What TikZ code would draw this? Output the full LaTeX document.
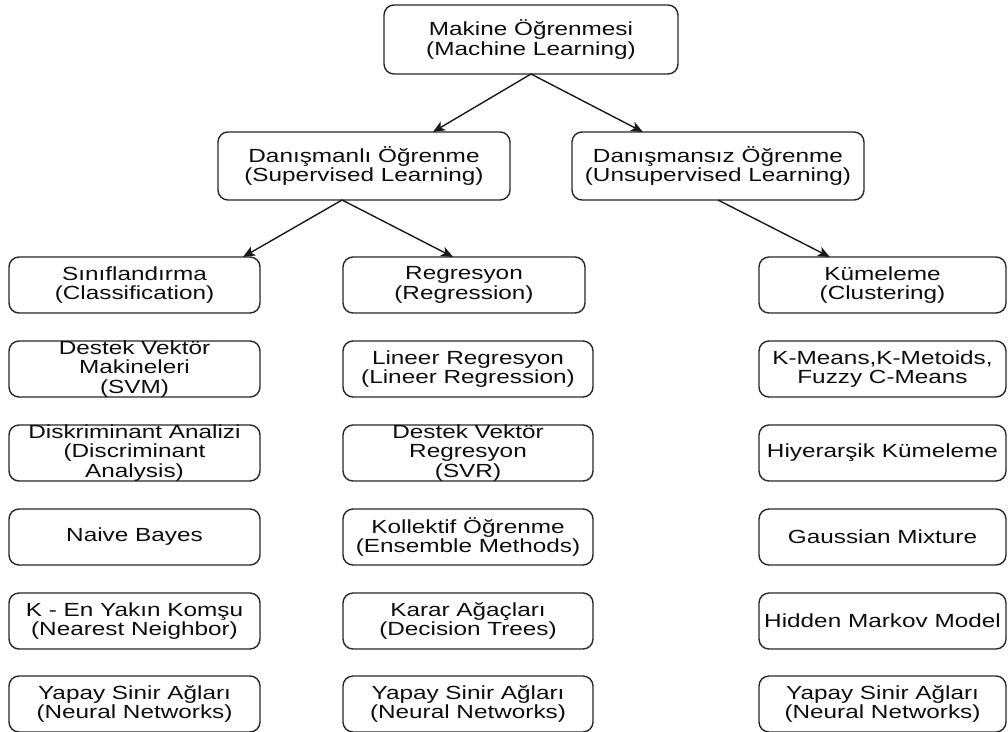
\documentclass[tikz,border=0pt]{standalone}
\usepackage{fontspec}
\setmainfont{Liberation Sans}[FakeStretch=1.28]
\usetikzlibrary{calc,arrows.meta}

\begin{document}
\begin{tikzpicture}[x=1pt,y=-1pt,
  box/.style={draw=black!85, line width=1.4pt, rounded corners=10pt,
              minimum height=56pt, inner sep=0pt, outer sep=0pt},
  colA/.style={box, minimum width=251pt},
  colB/.style={box, minimum width=250pt},
  colC/.style={box, minimum width=247pt},
  lbl/.style={align=center, text=black!95, inner sep=0pt,
              font=\fontsize{19}{19.5}\selectfont},
  link/.style={draw=black!90, line width=1.4pt,
               -{Stealth[length=12pt,width=10pt,inset=3pt]}}]

\useasboundingbox (0,0) rectangle (1008,731);

% root and the two learning families
\node[box, minimum width=294pt, minimum height=69pt] (ml) at (531,39.5) {};
\node[lbl] (mlT) at (ml) {Makine Öğrenmesi\\(Machine Learning)};

\node[box, minimum width=292pt, minimum height=68pt] (sup) at (364,166) {};
\node[lbl] (supT) at (sup) {Danışmanlı Öğrenme\\(Supervised Learning)};

\node[box, minimum width=292pt, minimum height=68pt] (uns) at (718,166) {};
\node[lbl] (unsT) at (uns) {Danışmansız Öğrenme\\(Unsupervised Learning)};

% task categories
\node[colA] (cls) at (134.5,285) {};
\node[lbl] (clsT) at (cls) {Sınıflandırma\\(Classification)};
\node[box, minimum width=242pt] (reg) at (464,285) {};
\node[lbl] (regT) at (reg) {Regresyon\\(Regression)};
\node[colC] (kum) at (882.5,285) {};
\node[lbl] (kumT) at (kum) {Kümeleme\\(Clustering)};

% classification methods
\node[colA] (a1) at (134.5,369) {};
\node[lbl] (a1T) at (a1) {Destek Vektör\\Makineleri\\(SVM)};
\node[colA] (a2) at (134.5,453) {};
\node[lbl] (a2T) at (a2) {Diskriminant Analizi\\(Discriminant\\Analysis)};
\node[colA] (a3) at (134.5,537) {};
\node[lbl] (a3T) at (a3) {Naive Bayes};
\node[colA] (a4) at (134.5,621) {};
\node[lbl] (a4T) at (a4) {K - En Yakın Komşu\\(Nearest Neighbor)};
\node[colA] (a5) at (134.5,704) {};
\node[lbl] (a5T) at (a5) {Yapay Sinir Ağları\\(Neural Networks)};

% regression methods
\node[colB] (b1) at (468,369) {};
\node[lbl] (b1T) at (b1) {Lineer Regresyon\\(Lineer Regression)};
\node[colB] (b2) at (468,453) {};
\node[lbl] (b2T) at (b2) {Destek Vektör\\Regresyon\\(SVR)};
\node[colB] (b3) at (468,537) {};
\node[lbl] (b3T) at (b3) {Kollektif Öğrenme\\(Ensemble Methods)};
\node[colB] (b4) at (468,621) {};
\node[lbl] (b4T) at (b4) {Karar Ağaçları\\(Decision Trees)};
\node[colB] (b5) at (468,704) {};
\node[lbl] (b5T) at (b5) {Yapay Sinir Ağları\\(Neural Networks)};

% clustering methods
\node[colC] (c1) at (882.5,369) {};
\node[lbl] (c1T) at (c1) {K-Means,K-Metoids,\\Fuzzy C-Means};
\node[colC] (c2) at (882.5,453) {};
\node[lbl] (c2T) at (c2) {Hiyerarşik Kümeleme};
\node[colC] (c3) at (882.5,537) {};
\node[lbl] (c3T) at (c3) {Gaussian Mixture};
\node[colC] (c4) at (882.5,621) {};
\node[lbl] (c4T) at (c4) {Hidden Markov Model};
\node[colC] (c5) at (882.5,704) {};
\node[lbl] (c5T) at (c5) {Yapay Sinir Ağları\\(Neural Networks)};

% connectors
\draw[link] (ml.south) -- ($(sup.north west)!0.736!(sup.north east)$);
\draw[link] (ml.south) -- ($(uns.north west)!0.243!(uns.north east)$);
\coordinate (supOut) at ($(sup.south west)!0.425!(sup.south east)$);
\draw[link] (supOut) -- ($(cls.north west)!0.932!(cls.north east)$);
\draw[link] (supOut) -- ($(reg.north west)!0.455!(reg.north east)$);
\draw[link] (uns.south) -- ($(kum.north west)!0.287!(kum.north east)$);
\end{tikzpicture}
\end{document}
